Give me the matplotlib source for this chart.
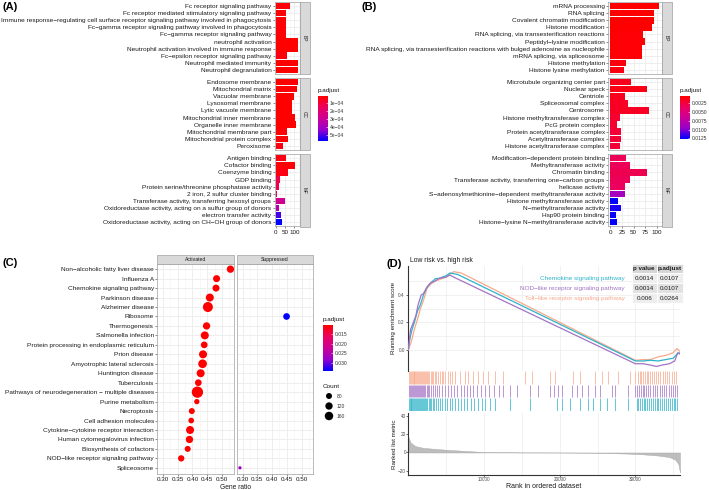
import numpy as np
import matplotlib
matplotlib.use("Agg")
import matplotlib.pyplot as plt
from matplotlib.colors import LinearSegmentedColormap, Normalize
from matplotlib.cm import ScalarMappable
from matplotlib.patches import Rectangle

plt.rcParams['font.family'] = ['Liberation Sans', 'DejaVu Sans']

# ---------------- data: panel A (GO, low risk) ----------------
a_bp_terms = ["Fc receptor signaling pathway",
              "Fc receptor mediated stimulatory signaling pathway",
              "Immune response\u2212regulating cell surface receptor signaling pathway involved in phagocytosis",
              "Fc\u2212gamma receptor signaling pathway involved in phagocytosis",
              "Fc\u2212gamma receptor signaling pathway",
              "neutrophil activation",
              "Neutrophil activation involved in immune response",
              "Fc\u2212epsilon receptor signaling pathway",
              "Neutrophil mediated immunity",
              "Neutrophil degranulation"]
a_bp_count = [74, 53, 53, 53, 53, 121, 120, 58, 121, 121]
a_bp_p = [2e-5, 2e-5, 2e-5, 2e-5, 2e-5, 1e-5, 1e-5, 3e-5, 1e-5, 1e-5]

a_cc_terms = ["Endosome membrane", "Mitochondrial matrix", "Vacuolar membrane",
              "Lysosomal membrane", "Lytic vacuole membrane", "Mitochondrial inner membrane",
              "Organelle inner membrane", "Mitochondrial membrane part",
              "Mitochondrial protein complex", "Peroxisome"]
a_cc_count = [117, 116, 96, 88, 88, 105, 110, 58, 65, 40]
a_cc_p = [1e-5, 1e-5, 1e-5, 1e-5, 1e-5, 1e-5, 1e-5, 2e-5, 2e-5, 4e-5]

a_mf_terms = ["Antigen binding", "Cofactor binding", "Coenzyme binding", "GDP binding",
              "Protein serine/threonine phosphatase activity", "2 iron, 2 sulfur cluster binding",
              "Transferase activity, transferring hexosyl groups",
              "Oxidoreductase activity, acting on a sulfur group of donors",
              "electron transfer activity",
              "Oxidoreductase activity, acting on CH\u2212OH group of donors"]
a_mf_count = [54, 105, 65, 21, 20, 9, 49, 20, 30, 35]
a_mf_p = [4e-5, 2e-5, 4e-5, 1.2e-4, 1.3e-4, 1.5e-4, 2.8e-4, 3.6e-4, 5.1e-4, 5.75e-4]

# ---------------- data: panel B (GO, high risk) ----------------
b_bp_terms = ["mRNA processing", "RNA splicing", "Covalent chromatin modification",
              "Histone modification", "RNA splicing, via transesterification reactions",
              "Peptidyl\u2212lysine modification",
              "RNA splicing, via transesterification reactions with bulged adenosine as nucleophile",
              "mRNA splicing, via spliceosome", "Histone methylation", "Histone lysine methylation"]
b_bp_count = [105, 95, 93, 90, 70, 74, 68, 68, 33, 29]
b_bp_p = [0.0004, 0.0004, 0.0004, 0.0004, 0.0006, 0.0006, 0.0006, 0.0006, 0.0008, 0.0009]

b_cc_terms = ["Microtubule organizing center part", "Nuclear speck", "Centriole",
              "Spliceosomal complex", "Centrosome", "Histone methyltransferase complex",
              "PcG protein complex", "Protein acetyltransferase complex",
              "Acetyltransferase complex", "Histone acetyltransferase complex"]
b_cc_count = [44, 78, 32, 37, 83, 20, 15, 22, 22, 20]
b_cc_p = [0.0013, 0.0011, 0.0014, 0.0016, 0.0016, 0.0020, 0.0020, 0.0022, 0.0022, 0.0022]

b_mf_terms = ["Modification\u2212dependent protein binding", "Methyltransferase activity",
              "Chromatin binding", "Transferase activity, transferring one\u2212carbon groups",
              "helicase activity", "S\u2212adenosylmethionine\u2212dependent methyltransferase activity",
              "Histone methyltransferase activity", "N\u2212methyltransferase activity",
              "Hsp90 protein binding", "Histone\u2212lysine N\u2212methyltransferase activity"]
b_mf_count = [34, 42, 80, 43, 31, 31, 16, 22, 13, 14]
b_mf_p = [0.0033, 0.0033, 0.0030, 0.0033, 0.0035, 0.0088, 0.0127, 0.0122, 0.0125, 0.0127]

# ---------------- data: panel C (KEGG GSEA dot plot) ----------------
c_terms = ["Non\u2212alcoholic fatty liver disease", "Influenza A", "Chemokine signaling pathway",
           "Parkinson disease", "Alzheimer disease", "Ribosome", "Thermogenesis",
           "Salmonella infection", "Protein processing in endoplasmic reticulum", "Prion disease",
           "Amyotrophic lateral sclerosis", "Huntington disease", "Tuberculosis",
           "Pathways of neurodegeneration \u2212 multiple diseases", "Purine metabolism",
           "Necroptosis", "Cell adhesion molecules", "Cytokine\u2212cytokine receptor interaction",
           "Human cytomegalovirus infection", "Biosynthesis of cofactors",
           "NOD\u2212like receptor signaling pathway", "Spliceosome"]
c_group = ["Activated"] * 5 + ["Suppressed"] + ["Activated"] * 15 + ["Suppressed"]
c_ratio = [0.529, 0.482, 0.480, 0.459, 0.4525, 0.449, 0.448, 0.442, 0.440, 0.436, 0.4345,
           0.428, 0.420, 0.417, 0.415, 0.398, 0.396, 0.392, 0.390, 0.384, 0.362, 0.291]
c_count = [120, 110, 110, 143, 223, 100, 120, 143, 100, 143, 168, 143, 100, 285, 63, 80,
           72, 143, 120, 80, 90, 24]
c_p = [0.0106] * 5 + [0.0339] + [0.0107] * 15 + [0.0270]
c_legend_counts = [80, 120, 160]

# ---------------- data: panel D (GSEA running score) ----------------
d_names = ["Chemokine signaling pathway", "NOD\u2212like receptor signaling pathway",
           "Toll\u2212like receptor signaling pathway"]
d_pvalue = ["0.0014", "0.0014", "0.006"]
d_padjust = ["0.0107", "0.0107", "0.0264"]
d_colors = ["#2db3c9", "#a374c4", "#f7a98c"]

teal_rank = [0, 200, 500, 800, 1200, 1600, 2000, 2400, 2800, 3200, 3600, 4000, 4500, 5000,
             5500, 6500, 30000, 31000, 32000, 33000, 34000, 35000, 35500, 35900]
teal_es = [0, 0.08, 0.15, 0.20, 0.28, 0.33, 0.40, 0.45, 0.48, 0.50, 0.52, 0.52, 0.53, 0.54,
           0.56, 0.55, -0.08, -0.08, -0.075, -0.08, -0.07, -0.06, -0.03, -0.02]
purple_rank = [0, 300, 600, 1000, 1300, 1700, 2000, 2500, 3000, 3500, 4000, 5000, 5500, 6000,
               30000, 31000, 32000, 32800, 33500, 34500, 35200, 35600, 35900]
purple_es = [0, 0.15, 0.19, 0.25, 0.33, 0.40, 0.41, 0.46, 0.49, 0.50, 0.52, 0.53, 0.545, 0.53,
             -0.10, -0.10, -0.11, -0.12, -0.11, -0.10, -0.08, -0.02, -0.03]
salmon_rank = [0, 400, 800, 1200, 1600, 2000, 2500, 3000, 3500, 4000, 5000, 6000, 7000,
               30000, 31000, 32000, 33000, 34000, 35000, 35500, 35900]
salmon_es = [0, 0.06, 0.15, 0.22, 0.30, 0.36, 0.45, 0.48, 0.50, 0.51, 0.53, 0.57, 0.56,
             -0.075, -0.07, -0.07, -0.05, -0.04, -0.02, 0.01, -0.01]

teal_hits = [80, 200, 310, 420, 540, 650, 760, 880, 1000, 1120, 1250, 1380, 1500, 1640, 1780,
             1920, 2060, 2200, 2350, 2500, 2680, 2860, 3050, 3250, 3450, 3700, 3950, 4200, 4500,
             4800, 5100, 5450, 5800, 6200, 6600, 7000, 7400, 7800, 8250, 8700, 9200, 9700,
             10200, 10800, 11450, 13440, 16080, 19600, 20270, 21360, 22680, 23780, 24440, 25320,
             26200, 27310, 29070, 30180, 30400, 30600, 30850, 31100, 31300, 31550, 31800, 32050,
             32300, 32550, 32800, 33050, 33300, 33550, 33800, 34050, 34300, 34550, 34800, 35050,
             35300, 35550, 35850]
purple_hits = [100, 230, 350, 480, 600, 700, 830, 960, 1100, 1220, 1350, 1500, 1630, 1780, 1920,
               2080, 2250, 2420, 2600, 2800, 3000, 3250, 3500, 3800, 4100, 4450, 4800, 5200,
               5700, 6100, 6500, 6900, 7300, 7700, 8100, 8600, 9100, 9600, 10100, 10700, 11300,
               12000, 12500, 13440, 14320, 16080, 17180, 18720, 19290, 19820, 20260, 21580,
               22240, 22900, 23780, 24660, 25320, 26860, 27300, 29060, 29950, 30200, 30450,
               30700, 30950, 31200, 31450, 31700, 32000, 32300, 32600, 32900, 33200, 33500,
               33800, 34100, 34400, 34700, 35000, 35300, 35500]
salmon_hits = [120, 260, 380, 470, 600, 720, 810, 950, 1080, 1190, 1300, 1420, 1560, 1680, 1790,
               1900, 2050, 2200, 2320, 2460, 2600, 2780, 2950, 3120, 3300, 3500, 3700, 3920,
               4150, 4400, 4650, 4900, 5200, 5500, 5750, 6170, 6830, 7490, 7930, 8590, 9250,
               9910, 10570, 11450, 12550, 15420, 16300, 18720, 19380, 21800, 22680, 24660,
               25540, 26420, 27750, 29290, 29950, 30400, 30600, 30800, 31000, 31250, 31500,
               31700, 31950, 32200, 32500, 32750, 33000, 33300, 33600, 33900, 34200, 34500,
               34800, 35100, 35400]

metric_rank = [0, 300, 900, 2000, 3500, 5000, 7000, 10000, 15000, 20000, 25000, 29000, 31000,
               33000, 34500, 35300, 35700, 35900]
metric_val = [17, 11, 7, 5, 4, 3, 2, 0.5, 0.1, 0, -0.3, -1.2, -2, -3.3, -5, -8, -13, -22]

# ---------------- figure setup ----------------
W, H = 709, 490
fig = plt.figure(figsize=(W / 100, H / 100), dpi=100)

def px_axes(x0, y0, x1, y1):
    return fig.add_axes([x0 / W, 1 - y1 / H, (x1 - x0) / W, (y1 - y0) / H])

fx = px_axes(0, 0, W, H)
fx.set_xlim(0, W)
fx.set_ylim(H, 0)
fx.axis('off')
fx.set_zorder(10)

cmap = LinearSegmentedColormap.from_list(
    'redblue', ['#ff0000', '#eb005e', '#cc0096', '#9600cc', '#0000ff'])

GRID = '#ebebeb'
BORDER = '#a0a0a0'
TXT = '#1a1a1a'
LAB = 4.65      # category label size
TICK = 4.5      # numeric axis labels


def style_box(ax):
    for s in ax.spines.values():
        s.set_color(BORDER)
        s.set_linewidth(0.5)
    ax.tick_params(length=1.5, width=0.4, pad=0.8, colors='#333333', labelcolor=TXT)


def strip_right(x0, y0, x1, y1, text):
    fx.add_patch(Rectangle((x0, y0), x1 - x0, y1 - y0, fc='#d9d9d9', ec=BORDER, lw=0.5))
    fx.text((x0 + x1) / 2, (y0 + y1) / 2, text, rotation=-90, ha='center', va='center',
            fontsize=3.5, color=TXT)


def bar_facet(x0, x1, y0, y1, terms, counts, pvals, norm, xlim, xticks, xminor, strip, show_x):
    ax = px_axes(x0, y0, x1, y1)
    ypos = np.arange(len(terms))
    ax.barh(ypos, counts, height=0.9, color=cmap(norm(np.array(pvals))), zorder=2)
    ax.set_ylim(len(terms) - 0.4, -0.6)
    ax.set_xlim(*xlim)
    ax.set_yticks(ypos)
    ax.set_yticklabels(terms, fontsize=LAB)
    ax.set_xticks(xticks)
    ax.set_xticks(xminor, minor=True)
    ax.grid(True, which='major', color=GRID, lw=0.6)
    ax.grid(True, which='minor', axis='x', color='#f4f4f4', lw=0.4)
    ax.set_axisbelow(True)
    style_box(ax)
    ax.tick_params(axis='x', which='minor', length=0)
    if show_x:
        ax.set_xticklabels([str(t) for t in xticks], fontsize=TICK)
    else:
        ax.tick_params(axis='x', which='major', labelbottom=False, length=0)
    strip_right(x1, y0, x1 + 10, y1, strip)
    return ax


def colorbar(x0, y0, x1, y1, norm, ticks, labels, title):
    cax = px_axes(x0, y0, x1, y1)
    cb = fig.colorbar(ScalarMappable(norm=norm, cmap=cmap), cax=cax)
    cb.outline.set_visible(False)
    cb.set_ticks(ticks)
    cb.set_ticklabels(labels)
    cax.invert_yaxis()
    cax.tick_params(labelsize=3.6, length=1.5, width=0.4, direction='in', color='white',
                    pad=1.5, labelcolor='#333333')
    fx.text(x0, y0 - 5.5, title, fontsize=4.6, ha='left', va='center', color=TXT)


# ---------------- panel A ----------------
norm_a = Normalize(min(a_bp_p + a_cc_p + a_mf_p), max(a_bp_p + a_cc_p + a_mf_p))
a_lim = (-6, 127)
bar_facet(274.5, 299.5, 2, 74, a_bp_terms, a_bp_count, a_bp_p, norm_a, a_lim, [0, 50, 100],
          [25, 75, 125], 'BP', False)
bar_facet(274.5, 299.5, 78, 150, a_cc_terms, a_cc_count, a_cc_p, norm_a, a_lim, [0, 50, 100],
          [25, 75, 125], 'CC', False)
bar_facet(274.5, 299.5, 154, 226.5, a_mf_terms, a_mf_count, a_mf_p, norm_a, a_lim, [0, 50, 100],
          [25, 75, 125], 'MF', True)
colorbar(318, 96, 328, 141, norm_a, [1e-4, 2e-4, 3e-4, 4e-4, 5e-4],
         ['1e\u221204', '2e\u221204', '3e\u221204', '4e\u221204', '5e\u221204'], 'p.adjust')

# ---------------- panel B ----------------
norm_b = Normalize(min(b_bp_p + b_cc_p + b_mf_p), max(b_bp_p + b_cc_p + b_mf_p))
b_lim = (-5.25, 110.25)
bar_facet(608, 661.5, 2, 74, b_bp_terms, b_bp_count, b_bp_p, norm_b, b_lim,
          [0, 25, 50, 75, 100], [12.5, 37.5, 62.5, 87.5], 'BP', False)
bar_facet(608, 661.5, 78, 150, b_cc_terms, b_cc_count, b_cc_p, norm_b, b_lim,
          [0, 25, 50, 75, 100], [12.5, 37.5, 62.5, 87.5], 'CC', False)
bar_facet(608, 661.5, 154, 226.5, b_mf_terms, b_mf_count, b_mf_p, norm_b, b_lim,
          [0, 25, 50, 75, 100], [12.5, 37.5, 62.5, 87.5], 'MF', True)
colorbar(680, 96, 689.5, 139, norm_b, [0.0025, 0.005, 0.0075, 0.01, 0.0125],
         ['0.0025', '0.0050', '0.0075', '0.0100', '0.0125'], 'p.adjust')

# ---------------- panel C ----------------
norm_c = Normalize(min(c_p), max(c_p))
c_rows = np.arange(len(c_terms))
c_size = 0.233 * np.array(c_count)
c_xlim = (0.28, 0.54)
for i, (grp, cx0, cx1) in enumerate([("Activated", 157, 233.7), ("Suppressed", 236.7, 313.4)]):
    ax = px_axes(cx0, 263.5, cx1, 473.5)
    sel = np.array([g == grp for g in c_group])
    ax.scatter(np.array(c_ratio)[sel], c_rows[sel], s=c_size[sel],
               c=cmap(norm_c(np.array(c_p)[sel])), linewidths=0, zorder=3)
    ax.set_xlim(*c_xlim)
    ax.set_ylim(len(c_terms) - 0.4, -0.6)
    ax.set_yticks(c_rows)
    ax.set_xticks([0.30, 0.35, 0.40, 0.45, 0.50])
    ax.set_xticks([0.325, 0.375, 0.425, 0.475, 0.525], minor=True)
    ax.set_xticklabels(['0.30', '0.35', '0.40', '0.45', '0.50'], fontsize=TICK)
    ax.grid(True, which='major', color=GRID, lw=0.6)
    ax.grid(True, which='minor', axis='x', color='#f4f4f4', lw=0.4)
    ax.set_axisbelow(True)
    style_box(ax)
    ax.tick_params(axis='x', which='minor', length=0)
    if i == 0:
        ax.set_yticklabels(c_terms, fontsize=LAB)
    else:
        ax.tick_params(axis='y', length=0, labelleft=False)
    fx.add_patch(Rectangle((cx0, 255), cx1 - cx0, 8.5, fc='#d9d9d9', ec=BORDER, lw=0.5))
    fx.text((cx0 + cx1) / 2, 259.3, grp, fontsize=3.7, ha='center', va='center', color=TXT)
fx.text(235, 487, 'Gene ratio', fontsize=4.8, ha='center', va='center', color=TXT)

colorbar(323, 325, 333, 371, norm_c, [0.015, 0.020, 0.025, 0.030],
         ['0.015', '0.020', '0.025', '0.030'], 'p.adjust')
fx.text(323, 386, 'Count', fontsize=4.6, ha='left', va='center', color=TXT)
fx.scatter([329] * 3, [396, 406, 416], s=0.233 * np.array(c_legend_counts), c='black',
           linewidths=0)
for yy, v in zip([396, 406, 416], c_legend_counts):
    fx.text(337, yy, str(v), fontsize=3.6, ha='left', va='center', color='#333333')

# ---------------- panel D ----------------
D_X0, D_X1 = 408.3, 680
rank_max = 35900
es_ax = px_axes(D_X0, 266, D_X1, 371)
for rr, ee, col in [(salmon_rank, salmon_es, d_colors[2]), (teal_rank, teal_es, d_colors[0]),
                    (purple_rank, purple_es, d_colors[1])]:
    es_ax.plot(rr, ee, color=col, lw=0.9, zorder=3)
es_ax.set_xlim(0, rank_max)
es_ax.set_ylim(-0.153, 0.611)
es_ax.set_xticks(np.arange(10000, 35000, 10000))
es_ax.set_xticks(np.arange(5000, 36000, 10000), minor=True)
es_ax.set_yticks([0.0, 0.2, 0.4])
es_ax.set_yticks([0.1, 0.3, 0.5], minor=True)
es_ax.set_yticklabels(['0.0', '0.2', '0.4'], fontsize=3.4, color='#4d4d4d')
es_ax.grid(True, which='both', color=GRID, lw=0.5)
es_ax.set_axisbelow(True)
for s in ['top', 'right', 'bottom']:
    es_ax.spines[s].set_visible(False)
es_ax.spines['left'].set_color('#333333')
es_ax.spines['left'].set_linewidth(0.8)
es_ax.tick_params(axis='x', which='both', length=0, labelbottom=False)
es_ax.tick_params(axis='y', which='major', length=1.5, width=0.4, pad=1)
es_ax.tick_params(axis='y', which='minor', length=0)

hit_ax = px_axes(D_X0, 371, D_X1, 411)
hit_ax.set_xlim(0, rank_max)
hit_ax.set_ylim(0, 3)
hit_ax.axis('off')
for k, (hits, col) in enumerate([(teal_hits, d_colors[0]), (purple_hits, d_colors[1]),
                                 (salmon_hits, d_colors[2])]):
    hit_ax.vlines(hits, k + 0.02, k + 0.98, color=col, lw=0.7, alpha=0.75)

rk_ax = px_axes(D_X0, 413, D_X1, 475)
rk_ax.fill_between(metric_rank, metric_val, 0, color='#bdbdbd', lw=0.3, edgecolor='#a8a8a8')
rk_ax.set_xlim(0, rank_max)
rk_ax.set_ylim(-24.5, 43)
rk_ax.set_xticks([10000, 20000, 30000])
rk_ax.set_xticks(np.arange(5000, 36000, 10000), minor=True)
rk_ax.set_xticklabels(['10000', '20000', '30000'], fontsize=3.3, color='#4d4d4d')
rk_ax.set_yticks([-20, 0, 20, 40])
rk_ax.set_yticklabels(['\u221220', '0', '20', '40'], fontsize=3.4, color='#4d4d4d')
rk_ax.grid(True, which='both', axis='x', color=GRID, lw=0.5)
rk_ax.set_axisbelow(True)
for s in ['top', 'right']:
    rk_ax.spines[s].set_visible(False)
for s in ['left', 'bottom']:
    rk_ax.spines[s].set_color('#333333')
    rk_ax.spines[s].set_linewidth(0.8)
rk_ax.tick_params(which='major', length=1.2, width=0.4, pad=0.5)
rk_ax.tick_params(which='minor', length=0)

fx.text(394, 318, 'Running enrichment score', rotation=90, fontsize=4.5, ha='center',
        va='center', color=TXT)
fx.text(394, 444, 'Ranked list metric', rotation=90, fontsize=4.5, ha='center', va='center',
        color=TXT)
fx.text(544, 486.8, 'Rank in ordered dataset', fontsize=5.0, ha='center', va='center', color=TXT)
fx.text(410, 260, 'Low risk vs. high risk', fontsize=4.9, ha='left', va='center', color=TXT)

# results table
col_x = [631.7, 656.7, 682.7]
row_y = [264, 273, 283.3, 293.3, 303.3]
row_bg = ['#d6d6d6', '#eeeeee', '#e2e2e2', '#eeeeee']
for r in range(4):
    for c in range(2):
        fx.add_patch(Rectangle((col_x[c], row_y[r]), col_x[c + 1] - col_x[c],
                               row_y[r + 1] - row_y[r], fc=row_bg[r], ec='white', lw=0.6))
fx.text((col_x[0] + col_x[1]) / 2, (row_y[0] + row_y[1]) / 2, 'p value', fontsize=4.5,
        fontweight='bold', ha='center', va='center', color=TXT)
fx.text((col_x[1] + col_x[2]) / 2, (row_y[0] + row_y[1]) / 2, 'p.adjust', fontsize=4.5,
        fontweight='bold', ha='center', va='center', color=TXT)
for r in range(3):
    yc = (row_y[r + 1] + row_y[r + 2]) / 2
    fx.text(625, yc, d_names[r], fontsize=4.6, ha='right', va='center', color=d_colors[r])
    fx.text((col_x[0] + col_x[1]) / 2, yc, d_pvalue[r], fontsize=4.5, ha='center',
            va='center', color=TXT)
    fx.text((col_x[1] + col_x[2]) / 2, yc, d_padjust[r], fontsize=4.5, ha='center',
            va='center', color=TXT)

# panel letters
for lx, ly, lab in [(2.5, 7, '(A)'), (361.5, 7, '(B)'), (2.5, 262.5, '(C)'), (386.5, 263.5, '(D)')]:
    fx.text(lx, ly, lab, fontsize=8, fontweight='bold', ha='left', va='center', color='black')

fig.savefig('out.png', dpi=100)
